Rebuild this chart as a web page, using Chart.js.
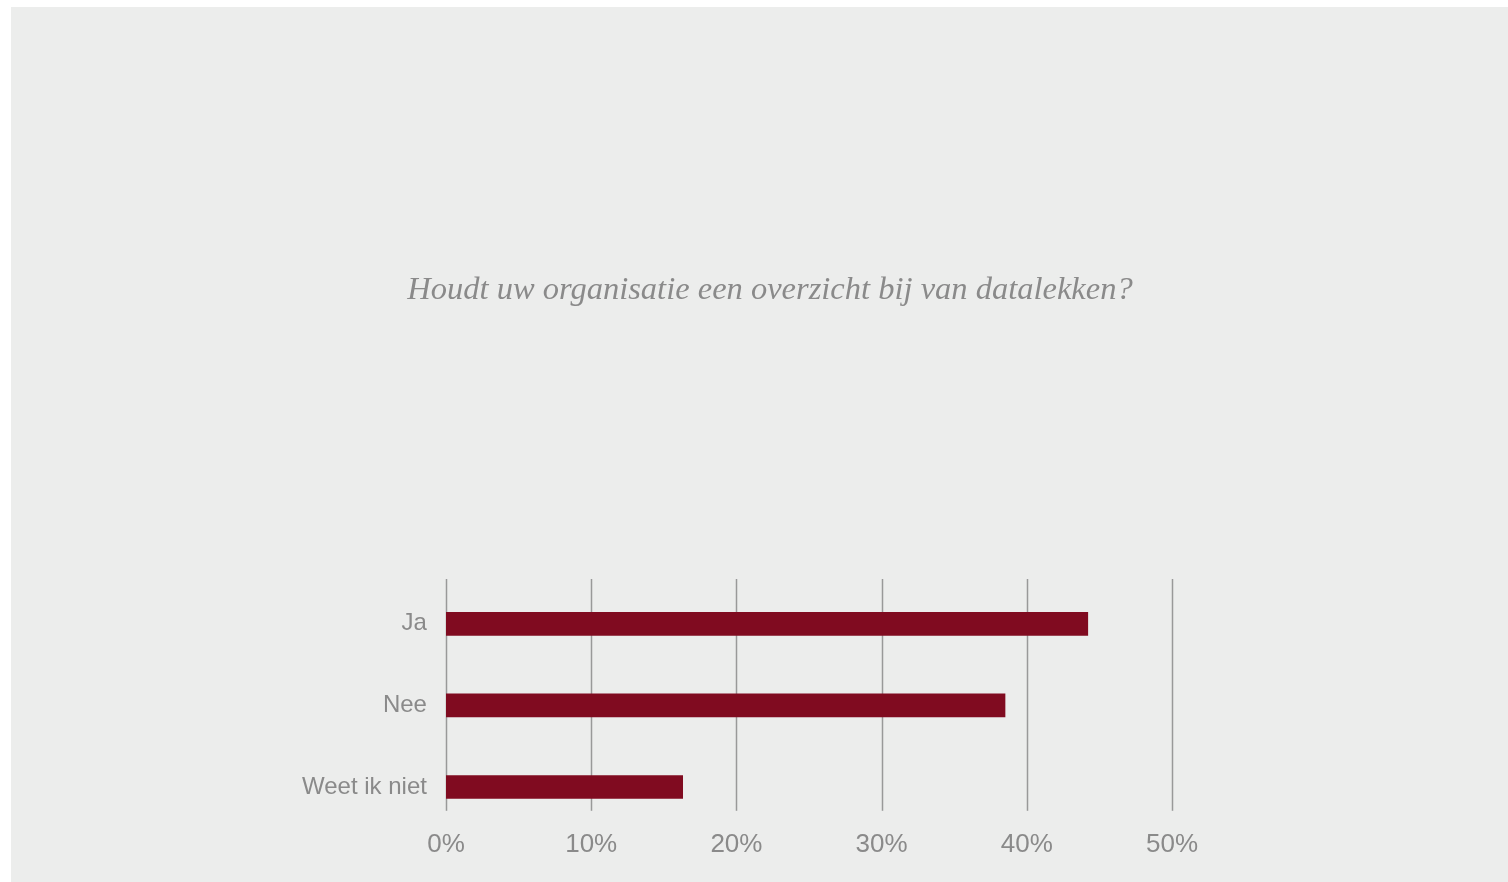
<!DOCTYPE html>
<html lang="nl">
<head>
<meta charset="utf-8">
<title>Datalekken</title>
<script src="https://cdn.jsdelivr.net/npm/chart.js@4.4.1/dist/chart.umd.min.js"></script>
<style>
    html, body { margin: 0; padding: 0; background: #ffffff; }
    .chart-box {
        position: absolute;
        left: 11px;
        top: 7px;
        width: 1497px;
        height: 875px;
        background: #ecedec;
    }
</style>
</head>
<body>
<div class="chart-box">
    <canvas id="datalekken"></canvas>
</div>
<script>
const categories = ['Ja', 'Nee', 'Weet ik niet'];
const percentages = [44.2, 38.5, 16.3];
const tickValues = [0, 10, 20, 30, 40, 50];

const textGray = '#8a8a8a';
const barColor = '#800b20';

// verticale lijnen op elke tick van de x-as, iets korter dan het plotvlak
const gridLines = {
    id: 'gridLines',
    beforeDatasetsDraw(chart) {
        const { ctx, chartArea, scales } = chart;
        const x = scales.x;
        ctx.save();
        ctx.strokeStyle = '#999999';
        ctx.lineWidth = 1.5;
        x.ticks.forEach(tick => {
            const px = Math.round(x.getPixelForValue(tick.value)) + 0.5;
            ctx.beginPath();
            ctx.moveTo(px, chartArea.top - 4);
            ctx.lineTo(px, chartArea.bottom - 17);
            ctx.stroke();
        });
        ctx.restore();
    }
};

const ctx = document.getElementById('datalekken').getContext('2d');

new Chart(ctx, {
    type: 'bar',
    data: {
        labels: categories,
        datasets: [{
            data: percentages,
            backgroundColor: barColor,
            borderWidth: 0,
            barThickness: 23
        }]
    },
    options: {
        indexAxis: 'y',
        responsive: true,
        maintainAspectRatio: false,
        animation: false,
        layout: {
            padding: { left: 357, right: 336, top: 0, bottom: 21 }
        },
        plugins: {
            legend: { display: false },
            tooltip: { enabled: false },
            title: {
                display: true,
                text: 'Houdt uw organisatie een overzicht bij van datalekken?',
                color: textGray,
                font: { family: '"Liberation Serif", "DejaVu Serif", serif', style: 'italic', size: 32.5, weight: 'normal' },
                padding: { top: 263.5, bottom: 273.5 }
            }
        },
        scales: {
            x: {
                min: 0,
                max: 50,
                afterBuildTicks: (scale) => {
                    scale.ticks = tickValues.map(v => ({ value: v }));
                },
                grid: { display: false, drawTicks: false },
                border: { display: false },
                ticks: {
                    padding: 1,
                    color: textGray,
                    font: { family: '"Liberation Sans", Arial, sans-serif', size: 26 },
                    callback: (v) => v + '%'
                }
            },
            y: {
                // vaste asbreedte; labels rechts uitgelijnd 20px links van de 0%-lijn
                afterFit: (scale) => { scale.width = 78; },
                grid: { display: false, drawTicks: false },
                border: { display: false },
                ticks: {
                    mirror: true,
                    crossAlign: 'far',
                    padding: -144,
                    color: textGray,
                    font: { family: '"Liberation Sans", Arial, sans-serif', size: 24 }
                }
            }
        }
    },
    plugins: [gridLines]
});
</script>
</body>
</html>
